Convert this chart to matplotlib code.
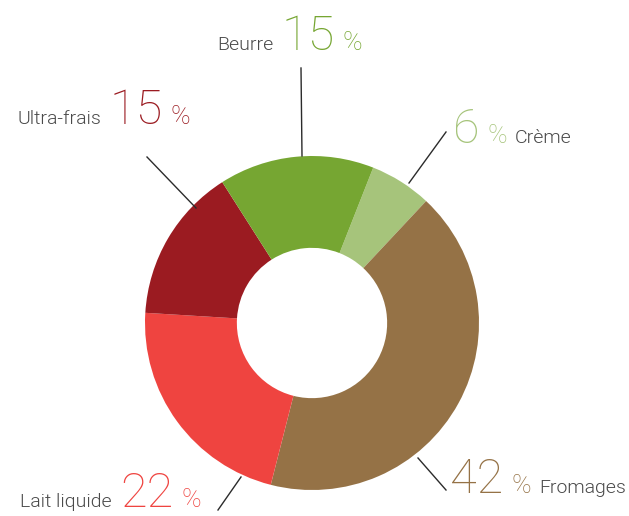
import matplotlib
matplotlib.use("Agg")
import matplotlib.pyplot as plt

# Distribution by product family (share of total, %)
categories = ["Crème", "Fromages", "Lait liquide", "Ultra-frais", "Beurre"]
shares = [6, 42, 22, 15, 15]
colors = ["#a6c47b", "#957246", "#ef4440", "#9b1b21", "#76a632"]

FONT = "Roboto"
W, H = 629, 516
fig = plt.figure(figsize=(W / 100, H / 100), dpi=100)

# Donut axes: centre (312, 323) px, outer radius 167 px
cx, cy, r = 312, 323, 167
ax = fig.add_axes([(cx - r) / W, (H - cy - r) / H, 2 * r / W, 2 * r / H])
ax.pie(shares, colors=colors, startangle=68.5, counterclock=False,
       radius=1, wedgeprops=dict(width=0.55, linewidth=0))
ax.set_xlim(-1, 1)
ax.set_ylim(-1, 1)
ax.set_aspect("equal")
ax.axis("off")

# Overlay in pixel coordinates for labels and leader lines
ov = fig.add_axes([0, 0, 1, 1])
ov.set_xlim(0, W)
ov.set_ylim(H, 0)
ov.axis("off")

leaders = {
    "Beurre": ((301, 68), (302, 156)),
    "Ultra-frais": ((147, 157), (196, 208)),
    "Crème": ((446, 132), (409, 183)),
    "Fromages": ((446, 490), (418, 458)),
    "Lait liquide": ((218, 510), (241, 477)),
}
for (x0, y0), (x1, y1) in leaders.values():
    ov.plot([x0, x1], [y0, y1], color="#2b2b2b", lw=1.0)

gray = "#4a4a4a"
NUM = dict(fontsize=35, family=FONT, fontweight=250)
PCT = dict(fontsize=19, family=FONT, fontweight=250)
NAME = dict(fontsize=14, family=FONT, fontweight=300)
GAP = 8

# anchor x, baseline y, anchor side, name first?
layout = {
    "Beurre": (362, 50, "right", True),
    "Ultra-frais": (190, 124, "right", True),
    "Crème": (453, 143, "left", False),
    "Fromages": (626, 493, "right", False),
    "Lait liquide": (201, 507, "right", True),
}

fig.canvas.draw()
renderer = fig.canvas.get_renderer()

for cat, val, col in zip(categories, shares, colors):
    ax_x, by, side, name_first = layout[cat]
    pieces = [(f"{val}", col, NUM), ("%", col, PCT)]
    name_piece = (cat, gray, NAME)
    pieces = [name_piece] + pieces if name_first else pieces + [name_piece]
    arts = [ov.text(0, by, t, color=c, va="baseline", ha="left", **kw)
            for t, c, kw in pieces]
    widths = [a.get_window_extent(renderer).width for a in arts]
    total = sum(widths) + GAP * (len(arts) - 1)
    x = ax_x - total if side == "right" else ax_x
    for a, w in zip(arts, widths):
        a.set_x(x)
        x += w + GAP

fig.savefig("out.png", dpi=100)
